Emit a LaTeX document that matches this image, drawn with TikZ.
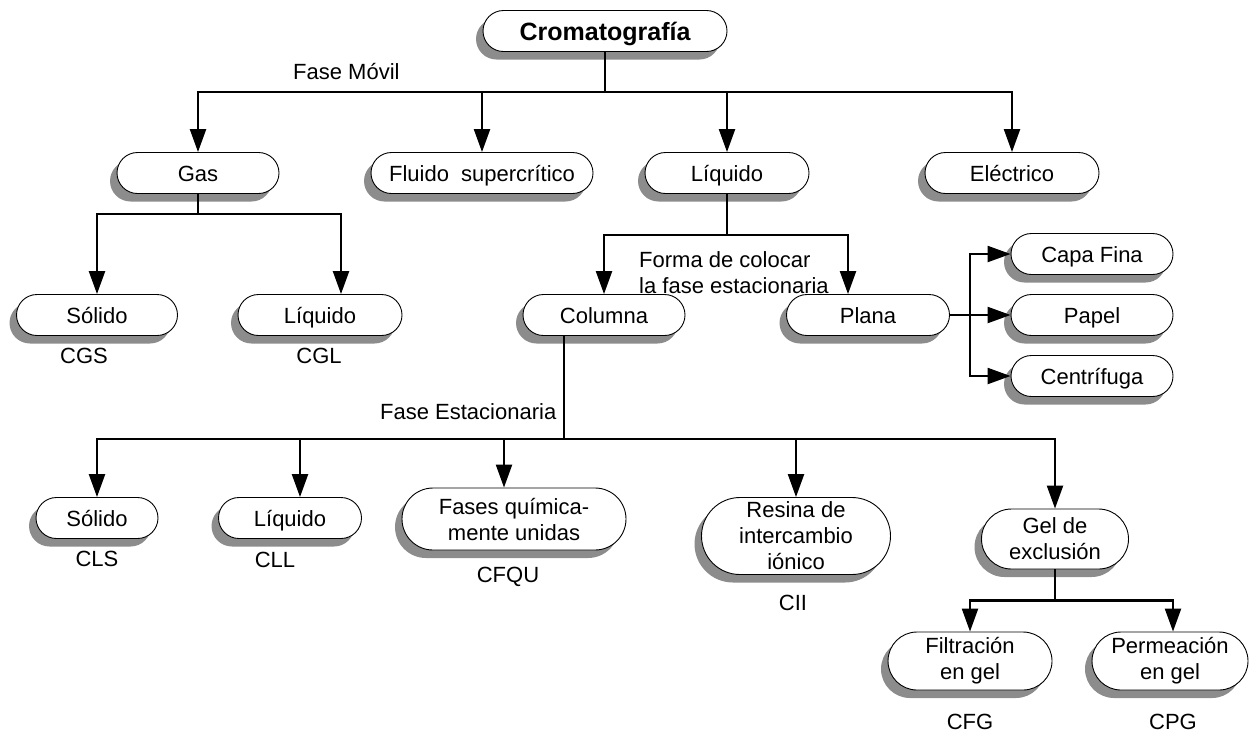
\documentclass[tikz,border=0pt]{standalone}
\usepackage{fontspec}
\setmainfont{Liberation Sans}
\usetikzlibrary{shapes.misc,shadows,arrows.meta}

\begin{document}
\begin{tikzpicture}[
    node distance=142pt,
    caja/.style={rounded rectangle, draw, line width=0.9pt, fill=white,
      inner sep=0pt, align=center, minimum height=41pt,
      font=\fontsize{22}{26}\selectfont,
      drop shadow={shadow xshift=-7pt, shadow yshift=-8pt, fill=black!45, opacity=1}},
    una/.style={text height=16pt, text depth=0pt},
    etiq/.style={font=\fontsize{22}{26}\selectfont, inner sep=0pt},
    flecha/.style={line width=2.3pt, -{Triangle[length=23pt,width=16pt]}},
  ]
  \useasboundingbox (0,0) rectangle (1255pt,-732pt);

  \node[caja, una, minimum width=244pt, text height=18pt, font=\fontsize{25}{28}\selectfont\bfseries] (crom) at (605pt,-31pt) {Cromatografía};

  %% fase movil
  \node[caja, una, minimum width=162pt, below of=crom, xshift=-407pt] (gas) {Gas};
  \node[caja, una, minimum width=222pt, below of=crom, xshift=-123pt] (fluido) {Fluido~ supercrítico};
  \node[caja, una, minimum width=164pt, below of=crom, xshift=122pt] (liq) {Líquido};
  \node[caja, una, minimum width=174pt, below of=crom, xshift=407pt] (elec) {Eléctrico};

  %% gas
  \node[caja, una, minimum width=161pt, below of=gas, xshift=-101pt] (solG) {Sólido};
  \node[caja, una, minimum width=164pt, below of=gas, xshift=122pt] (liqG) {Líquido};

  %% liquido
  \node[caja, una, minimum width=162pt, below of=liq, xshift=-123pt] (col) {Columna};
  \node[caja, una, minimum width=163pt, below of=liq, xshift=141pt] (plana) {Plana};
  \node[caja, una, minimum width=162pt, right of=plana, xshift=82pt, yshift=61pt] (capa) {Capa Fina};
  \node[caja, una, minimum width=162pt, right of=plana, xshift=82pt] (papel) {Papel};
  \node[caja, una, minimum width=162pt, right of=plana, xshift=82pt, yshift=-61pt] (centr) {Centrífuga};

  %% fase estacionaria
  \node[caja, una, minimum width=122pt, below of=col, xshift=-507pt, yshift=-61pt] (solL) {Sólido};
  \node[caja, una, minimum width=143pt, below of=col, xshift=-314pt, yshift=-61pt] (liqL) {Líquido};
  \node[caja, minimum width=224pt, minimum height=62pt, below of=col, xshift=-90pt, yshift=-62pt] (fases) {Fases química-\\mente unidas};
  \node[caja, minimum width=189pt, minimum height=77pt, below of=col, xshift=192pt, yshift=-79pt] (resina) {Resina de\\intercambio\\iónico};
  \node[caja, minimum width=147pt, minimum height=60pt, below of=col, xshift=451pt, yshift=-82pt] (gel) {Gel de\\exclusión};
  \node[caja, minimum width=164pt, minimum height=58pt, below of=gel, xshift=-85pt, yshift=20pt] (filt) {Filtración\\en gel};
  \node[caja, minimum width=156pt, minimum height=58pt, below of=gel, xshift=115pt, yshift=20pt] (perm) {Permeación\\en gel};

  %% siglas
  \node[etiq] (cgs) at ([xshift=-13pt,yshift=-41pt]solG.center) {CGS};
  \node[etiq] (cgl) at ([xshift=-1pt,yshift=-41pt]liqG.center) {CGL};
  \node[etiq] (cls) at ([yshift=-41pt]solL.center) {CLS};
  \node[etiq] (cll) at ([xshift=-15pt,yshift=-42pt]liqL.center) {CLL};
  \node[etiq] (cfqu) at ([xshift=-6pt,yshift=-58pt]fases.center) {CFQU};
  \node[etiq] (cii) at ([xshift=-3pt,yshift=-67pt]resina.center) {CII};
  \node[etiq] (cfg) at ([yshift=-61pt]filt.center) {CFG};
  \node[etiq] (cpg) at ([xshift=3pt,yshift=-61pt]perm.center) {CPG};

  %% textos de las ramas
  \node[etiq, anchor=west] (tmovil) at (293pt,-72pt) {Fase Móvil};
  \node[etiq, anchor=north west, align=left] (tforma) at (639pt,-251pt) {Forma de colocar\\la fase estacionaria};
  \node[etiq, anchor=west] (testac) at (380pt,-412pt) {Fase Estacionaria};

  \draw[flecha] (crom.south) -- ++(0,-40pt) -| (gas.north);
  \draw[flecha] (crom.south) -- ++(0,-40pt) -| (fluido.north);
  \draw[flecha] (crom.south) -- ++(0,-40pt) -| (liq.north);
  \draw[flecha] (crom.south) -- ++(0,-40pt) -| (elec.north);

  \draw[flecha] (gas.south) -- ++(0,-20pt) -| (solG.north);
  \draw[flecha] (gas.south) -- ++(0,-20pt) -| ([xshift=21pt]liqG.north);

  \draw[flecha] (liq.south) -- ++(0,-41pt) -| (col.north);
  \draw[flecha] (liq.south) -- ++(0,-41pt) -| ([xshift=-20pt]plana.north);

  \draw[flecha] (plana.east) -- ++(20pt,0) |- (capa.west);
  \draw[flecha] (plana.east) -- (papel.west);
  \draw[flecha] (plana.east) -- ++(20pt,0) |- (centr.west);

  \draw[flecha] ([xshift=-40pt]col.south) -- ++(0,-103pt) -| (solL.north);
  \draw[flecha] ([xshift=-40pt]col.south) -- ++(0,-103pt) -| ([xshift=10pt]liqL.north);
  \draw[flecha] ([xshift=-40pt]col.south) -- ++(0,-103pt) -| ([xshift=-10pt]fases.north);
  \draw[flecha] ([xshift=-40pt]col.south) -- ++(0,-103pt) -| (resina.north);
  \draw[flecha] ([xshift=-40pt]col.south) -- ++(0,-103pt) -| (gel.north);

  \draw[flecha] (gel.south) -- ++(0,-31pt) -| (filt.north);
  \draw[flecha] (gel.south) -- ++(0,-31pt) -| ([xshift=3pt]perm.north);
\end{tikzpicture}
\end{document}
